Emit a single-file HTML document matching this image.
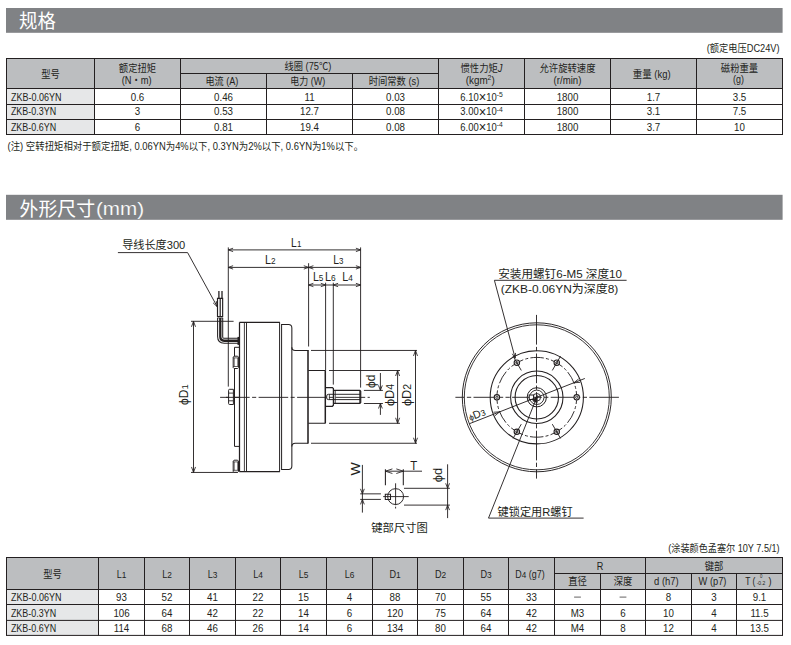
<!DOCTYPE html>
<html lang="zh-CN"><head><meta charset="utf-8"><title>规格 外形尺寸</title>
<style>
html,body{margin:0;padding:0;background:#fff}
body{width:791px;height:645px;overflow:hidden}
svg{display:block;font-family:'Liberation Sans','Noto Sans CJK SC',sans-serif}
</style></head><body>
<svg width="791" height="645" viewBox="0 0 791 645">
<rect x="6.00" y="8.00" width="776.60" height="24.80" fill="#808285"/>
<text transform="translate(19.00,28.30)" font-size="19" fill="#fff" text-anchor="start" textLength="36.80" lengthAdjust="spacingAndGlyphs">规格</text>
<rect x="6.00" y="194.80" width="776.60" height="25.00" fill="#808285"/>
<text transform="translate(19.50,215.50)" font-size="19" fill="#fff" text-anchor="start" textLength="75.60" lengthAdjust="spacingAndGlyphs">外形尺寸</text>
<text transform="translate(96.00,215.30)" font-size="19" fill="#fff" text-anchor="start" textLength="48.10" lengthAdjust="spacingAndGlyphs" stroke="#808285" stroke-width="0.18">(mm)</text>
<rect x="6.50" y="58.50" width="776.00" height="30.00" fill="#bcbec0"/>
<rect x="6.50" y="88.50" width="88.00" height="46.00" fill="#e6e7e8"/>
<line x1="6.00" y1="58.50" x2="783.00" y2="58.50" stroke="#231f20" stroke-width="1.0"/>
<line x1="6.00" y1="88.50" x2="783.00" y2="88.50" stroke="#231f20" stroke-width="1.0"/>
<line x1="6.00" y1="104.50" x2="783.00" y2="104.50" stroke="#231f20" stroke-width="1.0"/>
<line x1="6.00" y1="119.50" x2="783.00" y2="119.50" stroke="#231f20" stroke-width="1.0"/>
<line x1="6.00" y1="134.50" x2="783.00" y2="134.50" stroke="#231f20" stroke-width="1.0"/>
<line x1="180.50" y1="73.50" x2="438.50" y2="73.50" stroke="#231f20" stroke-width="1.0"/>
<line x1="6.50" y1="58.50" x2="6.50" y2="134.50" stroke="#231f20" stroke-width="1.0"/>
<line x1="94.50" y1="58.50" x2="94.50" y2="134.50" stroke="#231f20" stroke-width="1.0"/>
<line x1="180.50" y1="58.50" x2="180.50" y2="134.50" stroke="#231f20" stroke-width="1.0"/>
<line x1="266.50" y1="73.50" x2="266.50" y2="134.50" stroke="#231f20" stroke-width="1.0"/>
<line x1="352.50" y1="73.50" x2="352.50" y2="134.50" stroke="#231f20" stroke-width="1.0"/>
<line x1="438.50" y1="58.50" x2="438.50" y2="134.50" stroke="#231f20" stroke-width="1.0"/>
<line x1="524.50" y1="58.50" x2="524.50" y2="134.50" stroke="#231f20" stroke-width="1.0"/>
<line x1="610.50" y1="58.50" x2="610.50" y2="134.50" stroke="#231f20" stroke-width="1.0"/>
<line x1="696.50" y1="58.50" x2="696.50" y2="134.50" stroke="#231f20" stroke-width="1.0"/>
<line x1="782.50" y1="58.50" x2="782.50" y2="134.50" stroke="#231f20" stroke-width="1.0"/>
<text transform="translate(50.50,78.00) scale(0.88,1)" font-size="10.6" fill="#231f20" text-anchor="middle">型号</text>
<text transform="translate(137.50,72.40) scale(0.88,1)" font-size="10.6" fill="#231f20" text-anchor="middle">额定扭矩</text>
<text transform="translate(136.70,83.60)" font-size="10.6" fill="#231f20" text-anchor="middle" textLength="30.00" lengthAdjust="spacingAndGlyphs">(N・m)</text>
<text transform="translate(307.90,69.80)" font-size="10.6" fill="#231f20" text-anchor="middle" textLength="46.80" lengthAdjust="spacingAndGlyphs">线圈 (75℃)</text>
<text transform="translate(221.90,85.00)" font-size="10.6" fill="#231f20" text-anchor="middle" textLength="33.00" lengthAdjust="spacingAndGlyphs">电流 (A)</text>
<text transform="translate(307.70,85.00)" font-size="10.6" fill="#231f20" text-anchor="middle" textLength="35.00" lengthAdjust="spacingAndGlyphs">电力 (W)</text>
<text transform="translate(394.00,85.00) scale(0.88,1)" font-size="10.6" fill="#231f20" text-anchor="middle">时间常数 (s)</text>
<text transform="translate(481.50,72.40) scale(0.88,1)" font-size="10.6" fill="#231f20" text-anchor="middle">惯性力矩<tspan font-style="italic">J</tspan></text>
<text transform="translate(480.20,83.60)" font-size="10.6" fill="#231f20" text-anchor="middle" textLength="29.00" lengthAdjust="spacingAndGlyphs">(kgm<tspan font-size="7.4" dy="-3.4">2</tspan><tspan dy="3.4">)</tspan></text>
<text transform="translate(567.50,72.40) scale(0.88,1)" font-size="10.6" fill="#231f20" text-anchor="middle">允许旋转速度</text>
<text transform="translate(567.50,83.60)" font-size="10.6" fill="#231f20" text-anchor="middle" textLength="27.80" lengthAdjust="spacingAndGlyphs">(r/min)</text>
<text transform="translate(651.70,78.20)" font-size="10.6" fill="#231f20" text-anchor="middle" textLength="38.00" lengthAdjust="spacingAndGlyphs">重量 (kg)</text>
<text transform="translate(739.50,71.90) scale(0.88,1)" font-size="10.6" fill="#231f20" text-anchor="middle">磁粉重量</text>
<text transform="translate(738.50,82.80)" font-size="10.6" fill="#231f20" text-anchor="middle" textLength="10.90" lengthAdjust="spacingAndGlyphs">(g)</text>
<text transform="translate(10.90,100.50)" font-size="10.6" fill="#231f20" text-anchor="start" textLength="50.50" lengthAdjust="spacingAndGlyphs">ZKB-0.06YN</text>
<text transform="translate(137.50,100.50) scale(0.92,1)" font-size="10.6" fill="#231f20" text-anchor="middle">0.6</text>
<text transform="translate(223.50,100.50) scale(0.92,1)" font-size="10.6" fill="#231f20" text-anchor="middle">0.46</text>
<text transform="translate(309.50,100.50) scale(0.92,1)" font-size="10.6" fill="#231f20" text-anchor="middle">11</text>
<text transform="translate(395.50,100.50) scale(0.92,1)" font-size="10.6" fill="#231f20" text-anchor="middle">0.03</text>
<text transform="translate(481.50,100.50)" font-size="10.6" fill="#231f20" text-anchor="middle" textLength="42.40" lengthAdjust="spacingAndGlyphs">6.10<tspan font-size="14.5" dy="1.9">×</tspan><tspan dy="-1.9">10</tspan><tspan font-size="7.6" dy="-3.6">-5</tspan></text>
<text transform="translate(567.50,100.50) scale(0.92,1)" font-size="10.6" fill="#231f20" text-anchor="middle">1800</text>
<text transform="translate(653.50,100.50) scale(0.92,1)" font-size="10.6" fill="#231f20" text-anchor="middle">1.7</text>
<text transform="translate(739.50,100.50) scale(0.92,1)" font-size="10.6" fill="#231f20" text-anchor="middle">3.5</text>
<text transform="translate(10.90,115.40)" font-size="10.6" fill="#231f20" text-anchor="start" textLength="45.20" lengthAdjust="spacingAndGlyphs">ZKB-0.3YN</text>
<text transform="translate(137.50,115.40) scale(0.92,1)" font-size="10.6" fill="#231f20" text-anchor="middle">3</text>
<text transform="translate(223.50,115.40) scale(0.92,1)" font-size="10.6" fill="#231f20" text-anchor="middle">0.53</text>
<text transform="translate(309.50,115.40) scale(0.92,1)" font-size="10.6" fill="#231f20" text-anchor="middle">12.7</text>
<text transform="translate(395.50,115.40) scale(0.92,1)" font-size="10.6" fill="#231f20" text-anchor="middle">0.08</text>
<text transform="translate(481.50,115.40)" font-size="10.6" fill="#231f20" text-anchor="middle" textLength="42.40" lengthAdjust="spacingAndGlyphs">3.00<tspan font-size="14.5" dy="1.9">×</tspan><tspan dy="-1.9">10</tspan><tspan font-size="7.6" dy="-3.6">-4</tspan></text>
<text transform="translate(567.50,115.40) scale(0.92,1)" font-size="10.6" fill="#231f20" text-anchor="middle">1800</text>
<text transform="translate(653.50,115.40) scale(0.92,1)" font-size="10.6" fill="#231f20" text-anchor="middle">3.1</text>
<text transform="translate(739.50,115.40) scale(0.92,1)" font-size="10.6" fill="#231f20" text-anchor="middle">7.5</text>
<text transform="translate(10.90,130.50)" font-size="10.6" fill="#231f20" text-anchor="start" textLength="45.20" lengthAdjust="spacingAndGlyphs">ZKB-0.6YN</text>
<text transform="translate(137.50,130.50) scale(0.92,1)" font-size="10.6" fill="#231f20" text-anchor="middle">6</text>
<text transform="translate(223.50,130.50) scale(0.92,1)" font-size="10.6" fill="#231f20" text-anchor="middle">0.81</text>
<text transform="translate(309.50,130.50) scale(0.92,1)" font-size="10.6" fill="#231f20" text-anchor="middle">19.4</text>
<text transform="translate(395.50,130.50) scale(0.92,1)" font-size="10.6" fill="#231f20" text-anchor="middle">0.08</text>
<text transform="translate(481.50,130.50)" font-size="10.6" fill="#231f20" text-anchor="middle" textLength="42.40" lengthAdjust="spacingAndGlyphs">6.00<tspan font-size="14.5" dy="1.9">×</tspan><tspan dy="-1.9">10</tspan><tspan font-size="7.6" dy="-3.6">-4</tspan></text>
<text transform="translate(567.50,130.50) scale(0.92,1)" font-size="10.6" fill="#231f20" text-anchor="middle">1800</text>
<text transform="translate(653.50,130.50) scale(0.92,1)" font-size="10.6" fill="#231f20" text-anchor="middle">3.7</text>
<text transform="translate(739.50,130.50) scale(0.92,1)" font-size="10.6" fill="#231f20" text-anchor="middle">10</text>
<text transform="translate(779.60,52.30)" font-size="10.5" fill="#231f20" text-anchor="end" textLength="72.90" lengthAdjust="spacingAndGlyphs">(额定电压DC24V)</text>
<text transform="translate(7.60,150.30)" font-size="10.3" fill="#231f20" text-anchor="start" textLength="355.50" lengthAdjust="spacingAndGlyphs">(注) 空转扭矩相对于额定扭矩, 0.06YN为4%以下, 0.3YN为2%以下, 0.6YN为1%以下。</text>
<rect x="6.50" y="557.50" width="776.00" height="32.00" fill="#bcbec0"/>
<rect x="6.50" y="589.50" width="92.00" height="45.90" fill="#e6e7e8"/>
<line x1="6.00" y1="557.50" x2="783.00" y2="557.50" stroke="#231f20" stroke-width="1.0"/>
<line x1="6.00" y1="589.50" x2="783.00" y2="589.50" stroke="#231f20" stroke-width="1.0"/>
<line x1="6.00" y1="604.50" x2="783.00" y2="604.50" stroke="#231f20" stroke-width="1.0"/>
<line x1="6.00" y1="620.40" x2="783.00" y2="620.40" stroke="#231f20" stroke-width="1.0"/>
<line x1="6.00" y1="635.40" x2="783.00" y2="635.40" stroke="#231f20" stroke-width="1.0"/>
<line x1="554.50" y1="573.50" x2="782.50" y2="573.50" stroke="#231f20" stroke-width="1.0"/>
<line x1="6.50" y1="557.50" x2="6.50" y2="635.40" stroke="#231f20" stroke-width="1.0"/>
<line x1="98.50" y1="557.50" x2="98.50" y2="635.40" stroke="#231f20" stroke-width="1.0"/>
<line x1="144.50" y1="557.50" x2="144.50" y2="635.40" stroke="#231f20" stroke-width="1.0"/>
<line x1="189.50" y1="557.50" x2="189.50" y2="635.40" stroke="#231f20" stroke-width="1.0"/>
<line x1="235.50" y1="557.50" x2="235.50" y2="635.40" stroke="#231f20" stroke-width="1.0"/>
<line x1="280.50" y1="557.50" x2="280.50" y2="635.40" stroke="#231f20" stroke-width="1.0"/>
<line x1="326.50" y1="557.50" x2="326.50" y2="635.40" stroke="#231f20" stroke-width="1.0"/>
<line x1="372.50" y1="557.50" x2="372.50" y2="635.40" stroke="#231f20" stroke-width="1.0"/>
<line x1="417.50" y1="557.50" x2="417.50" y2="635.40" stroke="#231f20" stroke-width="1.0"/>
<line x1="463.50" y1="557.50" x2="463.50" y2="635.40" stroke="#231f20" stroke-width="1.0"/>
<line x1="508.50" y1="557.50" x2="508.50" y2="635.40" stroke="#231f20" stroke-width="1.0"/>
<line x1="554.50" y1="557.50" x2="554.50" y2="635.40" stroke="#231f20" stroke-width="1.0"/>
<line x1="600.50" y1="573.50" x2="600.50" y2="635.40" stroke="#231f20" stroke-width="1.0"/>
<line x1="645.50" y1="557.50" x2="645.50" y2="635.40" stroke="#231f20" stroke-width="1.0"/>
<line x1="691.50" y1="573.50" x2="691.50" y2="635.40" stroke="#231f20" stroke-width="1.0"/>
<line x1="736.50" y1="573.50" x2="736.50" y2="635.40" stroke="#231f20" stroke-width="1.0"/>
<line x1="782.50" y1="557.50" x2="782.50" y2="635.40" stroke="#231f20" stroke-width="1.0"/>
<text transform="translate(52.50,578.20) scale(0.88,1)" font-size="10.6" fill="#231f20" text-anchor="middle">型号</text>
<text transform="translate(121.50,578.40) scale(0.86,1)" font-size="10.6" fill="#231f20" text-anchor="middle">L<tspan font-size="9.7">1</tspan></text>
<text transform="translate(167.00,578.40) scale(0.86,1)" font-size="10.6" fill="#231f20" text-anchor="middle">L<tspan font-size="9.7">2</tspan></text>
<text transform="translate(212.50,578.40) scale(0.86,1)" font-size="10.6" fill="#231f20" text-anchor="middle">L<tspan font-size="9.7">3</tspan></text>
<text transform="translate(258.00,578.40) scale(0.86,1)" font-size="10.6" fill="#231f20" text-anchor="middle">L<tspan font-size="9.7">4</tspan></text>
<text transform="translate(303.50,578.40) scale(0.86,1)" font-size="10.6" fill="#231f20" text-anchor="middle">L<tspan font-size="9.7">5</tspan></text>
<text transform="translate(349.50,578.40) scale(0.86,1)" font-size="10.6" fill="#231f20" text-anchor="middle">L<tspan font-size="9.7">6</tspan></text>
<text transform="translate(395.00,578.40) scale(0.86,1)" font-size="10.6" fill="#231f20" text-anchor="middle">D<tspan font-size="9.7">1</tspan></text>
<text transform="translate(440.50,578.40) scale(0.86,1)" font-size="10.6" fill="#231f20" text-anchor="middle">D<tspan font-size="9.7">2</tspan></text>
<text transform="translate(486.00,578.40) scale(0.86,1)" font-size="10.6" fill="#231f20" text-anchor="middle">D<tspan font-size="9.7">3</tspan></text>
<text transform="translate(530.00,578.40)" font-size="10.6" fill="#231f20" text-anchor="middle" textLength="29.30" lengthAdjust="spacingAndGlyphs">D<tspan font-size="9.7">4</tspan> (g7)</text>
<text transform="translate(600.00,569.60) scale(0.86,1)" font-size="10.6" fill="#231f20" text-anchor="middle">R</text>
<text transform="translate(714.00,569.80) scale(0.88,1)" font-size="10.6" fill="#231f20" text-anchor="middle">键部</text>
<text transform="translate(577.50,585.20) scale(0.88,1)" font-size="10.6" fill="#231f20" text-anchor="middle">直径</text>
<text transform="translate(623.00,585.20) scale(0.88,1)" font-size="10.6" fill="#231f20" text-anchor="middle">深度</text>
<text transform="translate(666.40,585.20)" font-size="10.6" fill="#231f20" text-anchor="middle" textLength="24.70" lengthAdjust="spacingAndGlyphs">d (h7)</text>
<text transform="translate(712.50,585.20)" font-size="10.6" fill="#231f20" text-anchor="middle" textLength="27.80" lengthAdjust="spacingAndGlyphs">W (p7)</text>
<text transform="translate(745.20,585.20)" font-size="10.6" fill="#231f20" text-anchor="start" textLength="10.20" lengthAdjust="spacingAndGlyphs">T (</text>
<text transform="translate(761.20,578.00) scale(0.9,1)" font-size="4.8" fill="#231f20" text-anchor="middle">0</text>
<text transform="translate(761.00,584.90)" font-size="4.8" fill="#231f20" text-anchor="middle" textLength="8.60" lengthAdjust="spacingAndGlyphs">-0.2</text>
<text transform="translate(768.60,585.20) scale(0.86,1)" font-size="10.6" fill="#231f20" text-anchor="start">)</text>
<text transform="translate(10.90,600.90)" font-size="10.6" fill="#231f20" text-anchor="start" textLength="50.50" lengthAdjust="spacingAndGlyphs">ZKB-0.06YN</text>
<text transform="translate(121.50,600.90) scale(0.92,1)" font-size="10.6" fill="#231f20" text-anchor="middle">93</text>
<text transform="translate(167.00,600.90) scale(0.92,1)" font-size="10.6" fill="#231f20" text-anchor="middle">52</text>
<text transform="translate(212.50,600.90) scale(0.92,1)" font-size="10.6" fill="#231f20" text-anchor="middle">41</text>
<text transform="translate(258.00,600.90) scale(0.92,1)" font-size="10.6" fill="#231f20" text-anchor="middle">22</text>
<text transform="translate(303.50,600.90) scale(0.92,1)" font-size="10.6" fill="#231f20" text-anchor="middle">15</text>
<text transform="translate(349.50,600.90) scale(0.92,1)" font-size="10.6" fill="#231f20" text-anchor="middle">4</text>
<text transform="translate(395.00,600.90) scale(0.92,1)" font-size="10.6" fill="#231f20" text-anchor="middle">88</text>
<text transform="translate(440.50,600.90) scale(0.92,1)" font-size="10.6" fill="#231f20" text-anchor="middle">70</text>
<text transform="translate(486.00,600.90) scale(0.92,1)" font-size="10.6" fill="#231f20" text-anchor="middle">55</text>
<text transform="translate(531.50,600.90) scale(0.92,1)" font-size="10.6" fill="#231f20" text-anchor="middle">33</text>
<line x1="574.10" y1="597.10" x2="580.90" y2="597.10" stroke="#231f20" stroke-width="0.7"/>
<line x1="619.60" y1="597.10" x2="626.40" y2="597.10" stroke="#231f20" stroke-width="0.7"/>
<text transform="translate(668.50,600.90) scale(0.92,1)" font-size="10.6" fill="#231f20" text-anchor="middle">8</text>
<text transform="translate(714.00,600.90) scale(0.92,1)" font-size="10.6" fill="#231f20" text-anchor="middle">3</text>
<text transform="translate(759.50,600.90) scale(0.92,1)" font-size="10.6" fill="#231f20" text-anchor="middle">9.1</text>
<text transform="translate(10.90,616.70)" font-size="10.6" fill="#231f20" text-anchor="start" textLength="45.20" lengthAdjust="spacingAndGlyphs">ZKB-0.3YN</text>
<text transform="translate(121.50,616.70) scale(0.92,1)" font-size="10.6" fill="#231f20" text-anchor="middle">106</text>
<text transform="translate(167.00,616.70) scale(0.92,1)" font-size="10.6" fill="#231f20" text-anchor="middle">64</text>
<text transform="translate(212.50,616.70) scale(0.92,1)" font-size="10.6" fill="#231f20" text-anchor="middle">42</text>
<text transform="translate(258.00,616.70) scale(0.92,1)" font-size="10.6" fill="#231f20" text-anchor="middle">22</text>
<text transform="translate(303.50,616.70) scale(0.92,1)" font-size="10.6" fill="#231f20" text-anchor="middle">14</text>
<text transform="translate(349.50,616.70) scale(0.92,1)" font-size="10.6" fill="#231f20" text-anchor="middle">6</text>
<text transform="translate(395.00,616.70) scale(0.92,1)" font-size="10.6" fill="#231f20" text-anchor="middle">120</text>
<text transform="translate(440.50,616.70) scale(0.92,1)" font-size="10.6" fill="#231f20" text-anchor="middle">75</text>
<text transform="translate(486.00,616.70) scale(0.92,1)" font-size="10.6" fill="#231f20" text-anchor="middle">64</text>
<text transform="translate(531.50,616.70) scale(0.92,1)" font-size="10.6" fill="#231f20" text-anchor="middle">42</text>
<text transform="translate(577.50,616.70) scale(0.92,1)" font-size="10.6" fill="#231f20" text-anchor="middle">M3</text>
<text transform="translate(623.00,616.70) scale(0.92,1)" font-size="10.6" fill="#231f20" text-anchor="middle">6</text>
<text transform="translate(668.50,616.70) scale(0.92,1)" font-size="10.6" fill="#231f20" text-anchor="middle">10</text>
<text transform="translate(714.00,616.70) scale(0.92,1)" font-size="10.6" fill="#231f20" text-anchor="middle">4</text>
<text transform="translate(759.50,616.70) scale(0.92,1)" font-size="10.6" fill="#231f20" text-anchor="middle">11.5</text>
<text transform="translate(10.90,631.70)" font-size="10.6" fill="#231f20" text-anchor="start" textLength="45.20" lengthAdjust="spacingAndGlyphs">ZKB-0.6YN</text>
<text transform="translate(121.50,631.70) scale(0.92,1)" font-size="10.6" fill="#231f20" text-anchor="middle">114</text>
<text transform="translate(167.00,631.70) scale(0.92,1)" font-size="10.6" fill="#231f20" text-anchor="middle">68</text>
<text transform="translate(212.50,631.70) scale(0.92,1)" font-size="10.6" fill="#231f20" text-anchor="middle">46</text>
<text transform="translate(258.00,631.70) scale(0.92,1)" font-size="10.6" fill="#231f20" text-anchor="middle">26</text>
<text transform="translate(303.50,631.70) scale(0.92,1)" font-size="10.6" fill="#231f20" text-anchor="middle">14</text>
<text transform="translate(349.50,631.70) scale(0.92,1)" font-size="10.6" fill="#231f20" text-anchor="middle">6</text>
<text transform="translate(395.00,631.70) scale(0.92,1)" font-size="10.6" fill="#231f20" text-anchor="middle">134</text>
<text transform="translate(440.50,631.70) scale(0.92,1)" font-size="10.6" fill="#231f20" text-anchor="middle">80</text>
<text transform="translate(486.00,631.70) scale(0.92,1)" font-size="10.6" fill="#231f20" text-anchor="middle">64</text>
<text transform="translate(531.50,631.70) scale(0.92,1)" font-size="10.6" fill="#231f20" text-anchor="middle">42</text>
<text transform="translate(577.50,631.70) scale(0.92,1)" font-size="10.6" fill="#231f20" text-anchor="middle">M4</text>
<text transform="translate(623.00,631.70) scale(0.92,1)" font-size="10.6" fill="#231f20" text-anchor="middle">8</text>
<text transform="translate(668.50,631.70) scale(0.92,1)" font-size="10.6" fill="#231f20" text-anchor="middle">12</text>
<text transform="translate(714.00,631.70) scale(0.92,1)" font-size="10.6" fill="#231f20" text-anchor="middle">4</text>
<text transform="translate(759.50,631.70) scale(0.92,1)" font-size="10.6" fill="#231f20" text-anchor="middle">13.5</text>
<text transform="translate(779.60,551.80)" font-size="10.5" fill="#231f20" text-anchor="end" textLength="111.30" lengthAdjust="spacingAndGlyphs">(涂装颜色孟塞尔 10Y 7.5/1)</text>
<line x1="228.30" y1="249.90" x2="360.70" y2="249.90" stroke="#231f20" stroke-width="0.92"/>
<line x1="228.30" y1="267.40" x2="360.70" y2="267.40" stroke="#231f20" stroke-width="0.92"/>
<line x1="308.60" y1="285.00" x2="360.70" y2="285.00" stroke="#231f20" stroke-width="0.92"/>
<path d="M233.10,248.20 L228.30,249.90 L233.10,251.60" fill="none" stroke="#231f20" stroke-width="0.85"/>
<path d="M355.90,251.60 L360.70,249.90 L355.90,248.20" fill="none" stroke="#231f20" stroke-width="0.85"/>
<path d="M233.10,265.70 L228.30,267.40 L233.10,269.10" fill="none" stroke="#231f20" stroke-width="0.85"/>
<path d="M303.80,269.10 L308.60,267.40 L303.80,265.70" fill="none" stroke="#231f20" stroke-width="0.85"/>
<path d="M313.40,265.70 L308.60,267.40 L313.40,269.10" fill="none" stroke="#231f20" stroke-width="0.85"/>
<path d="M355.90,269.10 L360.70,267.40 L355.90,265.70" fill="none" stroke="#231f20" stroke-width="0.85"/>
<path d="M313.40,283.30 L308.60,285.00 L313.40,286.70" fill="none" stroke="#231f20" stroke-width="0.85"/>
<path d="M320.80,286.70 L325.60,285.00 L320.80,283.30" fill="none" stroke="#231f20" stroke-width="0.85"/>
<path d="M338.10,283.30 L333.30,285.00 L338.10,286.70" fill="none" stroke="#231f20" stroke-width="0.85"/>
<path d="M355.90,286.70 L360.70,285.00 L355.90,283.30" fill="none" stroke="#231f20" stroke-width="0.85"/>
<line x1="228.30" y1="247.40" x2="228.30" y2="386.60" stroke="#231f20" stroke-width="0.92"/>
<line x1="360.60" y1="247.40" x2="360.60" y2="387.60" stroke="#231f20" stroke-width="0.92"/>
<line x1="308.60" y1="263.20" x2="308.60" y2="346.50" stroke="#231f20" stroke-width="0.92"/>
<line x1="325.60" y1="282.70" x2="325.60" y2="370.50" stroke="#231f20" stroke-width="0.92"/>
<line x1="333.30" y1="282.70" x2="333.30" y2="384.60" stroke="#231f20" stroke-width="0.92"/>
<text transform="translate(291.10,246.70)" font-size="12.6" fill="#231f20" text-anchor="start" textLength="10.20" lengthAdjust="spacingAndGlyphs">L<tspan font-size="9.6">1</tspan></text>
<text transform="translate(264.90,263.90)" font-size="12.6" fill="#231f20" text-anchor="start" textLength="10.60" lengthAdjust="spacingAndGlyphs">L<tspan font-size="9.6">2</tspan></text>
<text transform="translate(333.20,263.90)" font-size="12.6" fill="#231f20" text-anchor="start" textLength="10.20" lengthAdjust="spacingAndGlyphs">L<tspan font-size="9.6">3</tspan></text>
<text transform="translate(312.90,281.30)" font-size="12.6" fill="#231f20" text-anchor="start" textLength="10.50" lengthAdjust="spacingAndGlyphs">L<tspan font-size="9.6">5</tspan></text>
<text transform="translate(324.90,281.30)" font-size="12.6" fill="#231f20" text-anchor="start" textLength="10.80" lengthAdjust="spacingAndGlyphs">L<tspan font-size="9.6">6</tspan></text>
<text transform="translate(342.30,281.30)" font-size="12.6" fill="#231f20" text-anchor="start" textLength="10.60" lengthAdjust="spacingAndGlyphs">L<tspan font-size="9.6">4</tspan></text>
<line x1="191.00" y1="321.30" x2="233.60" y2="321.30" stroke="#231f20" stroke-width="0.92"/>
<line x1="191.00" y1="472.45" x2="237.90" y2="472.45" stroke="#231f20" stroke-width="0.92"/>
<line x1="193.50" y1="321.30" x2="193.50" y2="472.45" stroke="#231f20" stroke-width="0.92"/>
<path d="M195.50,326.80 L193.50,321.30 L191.50,326.80" fill="none" stroke="#231f20" stroke-width="0.85"/>
<path d="M191.50,466.95 L193.50,472.45 L195.50,466.95" fill="none" stroke="#231f20" stroke-width="0.85"/>
<text transform="translate(188.30,405.00) rotate(-90)" font-size="12.6" fill="#231f20" text-anchor="start" textLength="20.70" lengthAdjust="spacingAndGlyphs">ϕD<tspan font-size="9.9">1</tspan></text>
<line x1="311.00" y1="350.45" x2="417.00" y2="350.45" stroke="#231f20" stroke-width="0.92"/>
<line x1="311.00" y1="443.25" x2="417.00" y2="443.25" stroke="#231f20" stroke-width="0.92"/>
<line x1="415.50" y1="350.45" x2="415.50" y2="443.25" stroke="#231f20" stroke-width="0.92"/>
<path d="M417.50,355.95 L415.50,350.45 L413.50,355.95" fill="none" stroke="#231f20" stroke-width="0.85"/>
<path d="M413.50,437.75 L415.50,443.25 L417.50,437.75" fill="none" stroke="#231f20" stroke-width="0.85"/>
<text transform="translate(411.00,406.10) rotate(-90)" font-size="12.6" fill="#231f20" text-anchor="start" textLength="22.20" lengthAdjust="spacingAndGlyphs">ϕD<tspan font-size="10.3">2</tspan></text>
<line x1="329.00" y1="370.50" x2="400.00" y2="370.50" stroke="#231f20" stroke-width="0.92"/>
<line x1="329.00" y1="423.30" x2="400.00" y2="423.30" stroke="#231f20" stroke-width="0.92"/>
<line x1="397.60" y1="370.50" x2="397.60" y2="423.30" stroke="#231f20" stroke-width="0.92"/>
<path d="M399.60,376.00 L397.60,370.50 L395.60,376.00" fill="none" stroke="#231f20" stroke-width="0.85"/>
<path d="M395.60,417.80 L397.60,423.30 L399.60,417.80" fill="none" stroke="#231f20" stroke-width="0.85"/>
<text transform="translate(394.00,406.10) rotate(-90)" font-size="12.6" fill="#231f20" text-anchor="start" textLength="22.20" lengthAdjust="spacingAndGlyphs">ϕD<tspan font-size="10.3">4</tspan></text>
<line x1="363.90" y1="390.40" x2="382.90" y2="390.40" stroke="#231f20" stroke-width="0.92"/>
<line x1="363.90" y1="403.50" x2="382.90" y2="403.50" stroke="#231f20" stroke-width="0.92"/>
<line x1="380.40" y1="373.00" x2="380.40" y2="390.40" stroke="#231f20" stroke-width="0.92"/>
<line x1="380.40" y1="403.50" x2="380.40" y2="414.90" stroke="#231f20" stroke-width="0.92"/>
<path d="M378.50,385.40 L380.40,390.40 L382.30,385.40" fill="none" stroke="#231f20" stroke-width="0.85"/>
<path d="M382.30,408.50 L380.40,403.50 L378.50,408.50" fill="none" stroke="#231f20" stroke-width="0.85"/>
<text transform="translate(375.00,388.00) rotate(-90)" font-size="12.6" fill="#231f20" text-anchor="start" textLength="13.40" lengthAdjust="spacingAndGlyphs">ϕd</text>
<line x1="220.10" y1="397.35" x2="369.80" y2="397.35" stroke="#231f20" stroke-width="0.92" stroke-dasharray="29.6 2.4 4.1 2.4"/>
<path d="M239.4,322.4 H279.9 M239.4,471.6 H279.9" fill="none" stroke="#231f20" stroke-width="1.1"/>
<line x1="239.50" y1="322.40" x2="239.50" y2="471.60" stroke="#231f20" stroke-width="1.25"/>
<line x1="244.40" y1="322.40" x2="244.40" y2="471.60" stroke="#231f20" stroke-width="0.85"/>
<line x1="246.50" y1="322.40" x2="246.50" y2="471.60" stroke="#231f20" stroke-width="0.95"/>
<line x1="279.60" y1="322.40" x2="279.60" y2="471.60" stroke="#231f20" stroke-width="1.0"/>
<line x1="281.60" y1="324.00" x2="281.60" y2="470.00" stroke="#231f20" stroke-width="1.0"/>
<path d="M281.6,324.5 H288.45000000000005 Q291.85,324.5 291.85,327.9 V466.1 Q291.85,469.5 288.45000000000005,469.5 H281.6" fill="none" stroke="#231f20" stroke-width="1.05"/>
<path d="M291.85,347.2 Q291.85,350.4 295.25,350.4 H308.2" fill="none" stroke="#231f20" stroke-width="1.05"/>
<path d="M291.85,446.4 Q291.85,443.2 295.25,443.2 H308.2" fill="none" stroke="#231f20" stroke-width="1.05"/>
<line x1="308.00" y1="350.00" x2="308.00" y2="443.60" stroke="#231f20" stroke-width="1.55"/>
<path d="M308.3,370.5 H325.5 M308.3,423.3 H325.5" fill="none" stroke="#231f20" stroke-width="1.05"/>
<line x1="325.30" y1="370.50" x2="325.30" y2="423.30" stroke="#231f20" stroke-width="1.5"/>
<path d="M325.5,387.6 H332.4 L333.4,388.6 V405.3 L332.4,406.3 H325.5" fill="none" stroke="#231f20" stroke-width="1.25"/>
<path d="M333.4,390.4 H359.9 L360.7,391.2 V402.6 L359.9,403.4 H333.4" fill="none" stroke="#231f20" stroke-width="1.25"/>
<line x1="335.20" y1="390.40" x2="335.20" y2="403.40" stroke="#231f20" stroke-width="0.9"/>
<line x1="359.50" y1="390.80" x2="359.50" y2="403.00" stroke="#231f20" stroke-width="0.7"/>
<path d="M360.4,394.3 H328.4 Q326.7,394.3 326.7,396 V397.9 Q326.7,399.6 328.4,399.6 H360.4" fill="none" stroke="#231f20" stroke-width="0.95"/>
<line x1="329.40" y1="394.30" x2="329.40" y2="399.60" stroke="#231f20" stroke-width="0.8"/>
<path d="M239.4,347.3 H234.5 V446.4 H239.4" fill="none" stroke="#231f20" stroke-width="1.0"/>
<path d="M233.2,357.09999999999997 L234.1,356.2 H237.7 L238.6,357.09999999999997 V367.6 L237.7,368.5 H234.1 L233.2,367.6 Z" fill="#fff" stroke="#231f20" stroke-width="1.0"/>
<line x1="233.20" y1="357.90" x2="238.60" y2="357.90" stroke="#231f20" stroke-width="0.7"/>
<line x1="233.20" y1="366.50" x2="238.60" y2="366.50" stroke="#231f20" stroke-width="0.7"/>
<line x1="234.30" y1="357.90" x2="234.30" y2="366.50" stroke="#231f20" stroke-width="0.6"/>
<line x1="237.70" y1="357.90" x2="237.70" y2="366.50" stroke="#231f20" stroke-width="0.6"/>
<path d="M233.2,461.09999999999997 L234.1,460.2 H237.6 L238.5,461.09999999999997 V471.40000000000003 L237.6,472.3 H234.1 L233.2,471.40000000000003 Z" fill="#fff" stroke="#231f20" stroke-width="1.0"/>
<line x1="233.20" y1="461.90" x2="238.50" y2="461.90" stroke="#231f20" stroke-width="0.7"/>
<line x1="233.20" y1="470.30" x2="238.50" y2="470.30" stroke="#231f20" stroke-width="0.7"/>
<line x1="234.30" y1="461.90" x2="234.30" y2="470.30" stroke="#231f20" stroke-width="0.6"/>
<line x1="237.60" y1="461.90" x2="237.60" y2="470.30" stroke="#231f20" stroke-width="0.6"/>
<path d="M229.6,389.3 H233.4 V404.5 H229.6 Q228.6,404.5 228.6,403.5 V390.3 Q228.6,389.3 229.6,389.3 Z" fill="#fff" stroke="#231f20" stroke-width="1.0"/>
<line x1="228.60" y1="393.10" x2="233.40" y2="393.10" stroke="#231f20" stroke-width="0.85"/>
<line x1="228.60" y1="400.80" x2="233.40" y2="400.80" stroke="#231f20" stroke-width="0.85"/>
<line x1="226.00" y1="397.35" x2="240.00" y2="397.35" stroke="#231f20" stroke-width="0.92"/>
<line x1="218.90" y1="291.10" x2="218.90" y2="298.30" stroke="#231f20" stroke-width="1.3"/>
<line x1="222.00" y1="291.10" x2="222.00" y2="298.30" stroke="#231f20" stroke-width="1.3"/>
<path d="M217.5,298.3 H222.65 V316.5 H217.5 Z" fill="#fff" stroke="#231f20" stroke-width="1.15"/>
<line x1="220.20" y1="298.30" x2="220.20" y2="316.50" stroke="#231f20" stroke-width="1.2"/>
<path d="M217.6,317.9 V336.60 Q217.6,343.2 224.20,343.2 H238.4" fill="none" stroke="#231f20" stroke-width="1.05"/>
<path d="M220.3,317.9 V336.85 Q220.3,340.75 224.20,340.75 H238.4" fill="none" stroke="#231f20" stroke-width="2.3"/>
<path d="M222.7,317.9 V336.90 Q222.7,338.3 224.10,338.3 H238.4" fill="none" stroke="#231f20" stroke-width="1.05"/>
<line x1="217.20" y1="317.90" x2="223.10" y2="317.90" stroke="#231f20" stroke-width="0.8"/>
<line x1="238.30" y1="336.90" x2="238.30" y2="344.90" stroke="#231f20" stroke-width="1.6"/>
<text transform="translate(122.20,249.10)" font-size="11.2" fill="#231f20" text-anchor="start" textLength="63.10" lengthAdjust="spacingAndGlyphs">导线长度300</text>
<path d="M117.9,252.6 H187.6 L217.3,306.8" fill="none" stroke="#231f20" stroke-width="0.92"/>
<path d="M213.08,302.84 L217.30,306.80 L216.24,301.11" fill="none" stroke="#231f20" stroke-width="0.85"/>
<line x1="362.40" y1="464.90" x2="362.40" y2="512.60" stroke="#231f20" stroke-width="0.92"/>
<line x1="360.20" y1="493.85" x2="380.90" y2="493.85" stroke="#231f20" stroke-width="0.92"/>
<line x1="360.20" y1="499.40" x2="380.90" y2="499.40" stroke="#231f20" stroke-width="0.92"/>
<path d="M360.50,488.85 L362.40,493.85 L364.30,488.85" fill="none" stroke="#231f20" stroke-width="0.85"/>
<path d="M364.30,504.40 L362.40,499.40 L360.50,504.40" fill="none" stroke="#231f20" stroke-width="0.85"/>
<text transform="translate(360.10,475.40) rotate(-90)" font-size="12.6" fill="#231f20" text-anchor="start" textLength="13.20" lengthAdjust="spacingAndGlyphs">W</text>
<path d="M385.3,494.2 H390.5 V499.5 H385.3 Z" fill="none" stroke="#231f20" stroke-width="1.05"/>
<circle cx="395.60" cy="496.60" r="7.95" fill="none" stroke="#231f20" stroke-width="0.95"/>
<line x1="395.60" y1="483.30" x2="395.60" y2="505.20" stroke="#231f20" stroke-width="0.92"/>
<line x1="395.60" y1="506.70" x2="395.60" y2="508.50" stroke="#231f20" stroke-width="0.92"/>
<line x1="383.20" y1="496.60" x2="408.70" y2="496.60" stroke="#231f20" stroke-width="0.92"/>
<line x1="385.40" y1="469.20" x2="385.40" y2="485.30" stroke="#231f20" stroke-width="1.05"/>
<line x1="403.30" y1="469.20" x2="403.30" y2="485.30" stroke="#231f20" stroke-width="1.05"/>
<line x1="385.40" y1="471.20" x2="422.00" y2="471.20" stroke="#231f20" stroke-width="0.92"/>
<path d="M392.40,468.90 L385.40,471.20 L392.40,473.50" fill="none" stroke="#231f20" stroke-width="0.85"/>
<path d="M396.30,473.50 L403.30,471.20 L396.30,468.90" fill="none" stroke="#231f20" stroke-width="0.85"/>
<text transform="translate(410.30,470.30)" font-size="12.6" fill="#231f20" text-anchor="start" textLength="7.00" lengthAdjust="spacingAndGlyphs">T</text>
<line x1="447.60" y1="464.30" x2="447.60" y2="518.10" stroke="#231f20" stroke-width="0.92"/>
<line x1="404.00" y1="488.30" x2="449.90" y2="488.30" stroke="#231f20" stroke-width="0.92"/>
<line x1="404.00" y1="505.10" x2="449.90" y2="505.10" stroke="#231f20" stroke-width="0.92"/>
<path d="M445.70,483.30 L447.60,488.30 L449.50,483.30" fill="none" stroke="#231f20" stroke-width="0.85"/>
<path d="M449.50,510.10 L447.60,505.10 L445.70,510.10" fill="none" stroke="#231f20" stroke-width="0.85"/>
<text transform="translate(442.00,482.20) rotate(-90)" font-size="12.6" fill="#231f20" text-anchor="start" textLength="14.30" lengthAdjust="spacingAndGlyphs">ϕd</text>
<text transform="translate(371.20,532.30)" font-size="11.3" fill="#231f20" text-anchor="start" textLength="56.60" lengthAdjust="spacingAndGlyphs">键部尺寸图</text>
<circle cx="536.80" cy="397.30" r="74.50" fill="none" stroke="#231f20" stroke-width="0.95"/>
<circle cx="536.80" cy="397.30" r="72.50" fill="none" stroke="#231f20" stroke-width="0.9"/>
<circle cx="536.80" cy="397.30" r="46.60" fill="none" stroke="#231f20" stroke-width="1.05"/>
<circle cx="536.8" cy="397.3" r="39.9" fill="none" stroke="#231f20" stroke-width="0.92" stroke-dasharray="13.5 2.2 3 2.19" stroke-dashoffset="6.75"/>
<circle cx="536.80" cy="397.30" r="26.20" fill="none" stroke="#231f20" stroke-width="1.05"/>
<circle cx="536.80" cy="397.30" r="21.70" fill="none" stroke="#231f20" stroke-width="1.05"/>
<circle cx="536.80" cy="397.30" r="9.60" fill="none" stroke="#231f20" stroke-width="1.0"/>
<circle cx="536.80" cy="397.30" r="7.20" fill="none" stroke="#231f20" stroke-width="0.9"/>
<circle cx="536.80" cy="397.30" r="3.80" fill="none" stroke="#231f20" stroke-width="0.9"/>
<line x1="455.4" y1="397.3" x2="618.9" y2="397.3" stroke="#231f20" stroke-width="0.92" stroke-dasharray="29.7 2.3 4.3 2.3" stroke-dashoffset="20.5"/>
<line x1="536.5" y1="314.9" x2="536.5" y2="478.6" stroke="#231f20" stroke-width="0.92" stroke-dasharray="29.7 2.3 4.3 2.3"/>
<circle cx="576.70" cy="397.30" r="2.70" fill="#fff" stroke="#231f20" stroke-width="1.1"/>
<circle cx="576.70" cy="397.30" r="1.10" fill="none" stroke="#231f20" stroke-width="0.9"/>
<circle cx="556.75" cy="362.75" r="2.70" fill="#fff" stroke="#231f20" stroke-width="1.1"/>
<circle cx="556.75" cy="362.75" r="1.10" fill="none" stroke="#231f20" stroke-width="0.9"/>
<line x1="552.30" y1="370.45" x2="560.55" y2="356.16" stroke="#231f20" stroke-width="0.92"/>
<circle cx="516.85" cy="362.75" r="2.70" fill="#fff" stroke="#231f20" stroke-width="1.1"/>
<circle cx="516.85" cy="362.75" r="1.10" fill="none" stroke="#231f20" stroke-width="0.9"/>
<line x1="521.30" y1="370.45" x2="513.05" y2="356.16" stroke="#231f20" stroke-width="0.92"/>
<circle cx="496.90" cy="397.30" r="2.70" fill="#fff" stroke="#231f20" stroke-width="1.1"/>
<circle cx="496.90" cy="397.30" r="1.10" fill="none" stroke="#231f20" stroke-width="0.9"/>
<circle cx="516.85" cy="431.85" r="2.70" fill="#fff" stroke="#231f20" stroke-width="1.1"/>
<circle cx="516.85" cy="431.85" r="1.10" fill="none" stroke="#231f20" stroke-width="0.9"/>
<line x1="521.30" y1="424.15" x2="513.05" y2="438.44" stroke="#231f20" stroke-width="0.92"/>
<circle cx="556.75" cy="431.85" r="2.70" fill="#fff" stroke="#231f20" stroke-width="1.1"/>
<circle cx="556.75" cy="431.85" r="1.10" fill="none" stroke="#231f20" stroke-width="0.9"/>
<line x1="552.30" y1="424.15" x2="560.55" y2="438.44" stroke="#231f20" stroke-width="0.92"/>
<path d="M529.2,394.9 H533.6 V399.4 H529.2 Z" fill="#fff" stroke="#231f20" stroke-width="1.05"/>
<line x1="469.30" y1="423.75" x2="584.84" y2="378.47" stroke="#231f20" stroke-width="0.92"/>
<path d="M494.94,415.74 L499.65,411.86 L493.56,412.21" fill="none" stroke="#231f20" stroke-width="0.85"/>
<path d="M578.66,378.86 L573.95,382.74 L580.04,382.39" fill="none" stroke="#231f20" stroke-width="0.85"/>
<text transform="translate(470.23,421.09) rotate(-21.4)" font-size="8.4" fill="#231f20" text-anchor="start">ϕ<tspan font-size="10.8">D</tspan><tspan font-size="8.4">3</tspan></text>
<text transform="translate(498.20,278.20)" font-size="11.6" fill="#231f20" text-anchor="start" textLength="123.80" lengthAdjust="spacingAndGlyphs">安装用螺钉6-M5 深度10</text>
<text transform="translate(500.70,292.60)" font-size="11.6" fill="#231f20" text-anchor="start" textLength="117.60" lengthAdjust="spacingAndGlyphs">(ZKB-0.06YN为深度8)</text>
<path d="M626.6,280.3 H494.4 L515.2,358.2" fill="none" stroke="#231f20" stroke-width="0.92"/>
<path d="M512.27,353.81 L515.20,358.20 L515.55,352.93" fill="none" stroke="#231f20" stroke-width="0.85"/>
<path d="M536.8,397.3 L488.5,518.1 H583.6" fill="none" stroke="#231f20" stroke-width="0.92"/>
<path d="M537.62,395.26 L537.27,402.87 L532.62,401.01 Z" fill="#231f20" stroke="#231f20" stroke-width="0.4"/>
<text transform="translate(497.60,516.00)" font-size="11.3" fill="#231f20" text-anchor="start" textLength="75.10" lengthAdjust="spacingAndGlyphs">键锁定用R螺钉</text>
</svg>
</body></html>
